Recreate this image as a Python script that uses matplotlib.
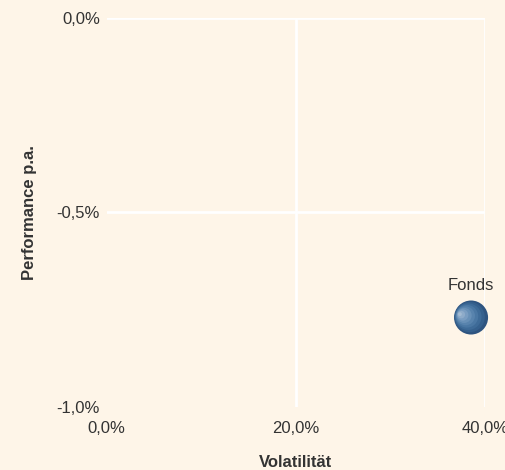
import matplotlib.pyplot as plt
from matplotlib.ticker import FuncFormatter
from matplotlib.transforms import offset_copy

# data
names = ["Fonds"]
volatility = [38.5]
performance = [-0.77]

x_ticks = [0, 20, 40]
y_ticks = [-1.0, -0.5, 0.0]

bg = "#fef5e8"
text_color = "#333333"
fs = 12

plt.rcParams['font.family'] = ['Liberation Sans', 'DejaVu Sans']

fig = plt.figure(figsize=(5.06, 4.70), dpi=100, facecolor=bg)
ax = fig.add_axes([0.211, 0.134, 0.748, 0.828])
ax.set_facecolor(bg)

ax.set_xlim(0, 40)
ax.set_ylim(-1.0, 0.0)
ax.set_xticks(x_ticks)
ax.set_yticks(y_ticks)

def de_pct(v, pos, nd=1):
    return f"{v:.{nd}f}%".replace(".", ",")

ax.xaxis.set_major_formatter(FuncFormatter(de_pct))
ax.yaxis.set_major_formatter(FuncFormatter(de_pct))

for s in ax.spines.values():
    s.set_visible(False)
ax.tick_params(length=0, colors=text_color, labelsize=fs)
ax.tick_params(axis='x', pad=10)
ax.tick_params(axis='y', pad=5)

# grid lines, none on the axes' own edges
for xv in x_ticks[1:]:
    ax.axvline(xv, color="white", lw=2, zorder=1)
for yv in y_ticks[1:]:
    ax.axhline(yv, color="white", lw=2, zorder=1)

# shaded sphere: stack of circles getting lighter toward the left
shades = ["#2e5480", "#35608d", "#3e6b98", "#4a77a3", "#5883ad",
          "#6890b7", "#7a9dc1", "#8eabc9", "#a3bad2"]
base = 600
for i, c in enumerate(shades):
    frac = 1 - i / len(shades)
    off = (1 - frac) * 9
    tr = offset_copy(ax.transData, fig=fig, x=-off, y=off * 0.3, units='points')
    ax.scatter(volatility, performance, s=base * frac ** 2, color=c,
               edgecolors='none', transform=tr, zorder=3 + i, clip_on=False)

for n, xv, yv in zip(names, volatility, performance):
    ax.annotate(n, (xv, yv), xytext=(0, 18), textcoords='offset points',
                ha='center', va='bottom', fontsize=fs, color=text_color)

ax.set_xlabel("Volatilität", fontsize=fs, fontweight='bold', color=text_color, labelpad=14)
ax.set_ylabel("Performance p.a.", fontsize=fs, fontweight='bold', color=text_color, labelpad=14)

fig.savefig("out.png", dpi=100, facecolor=bg)
